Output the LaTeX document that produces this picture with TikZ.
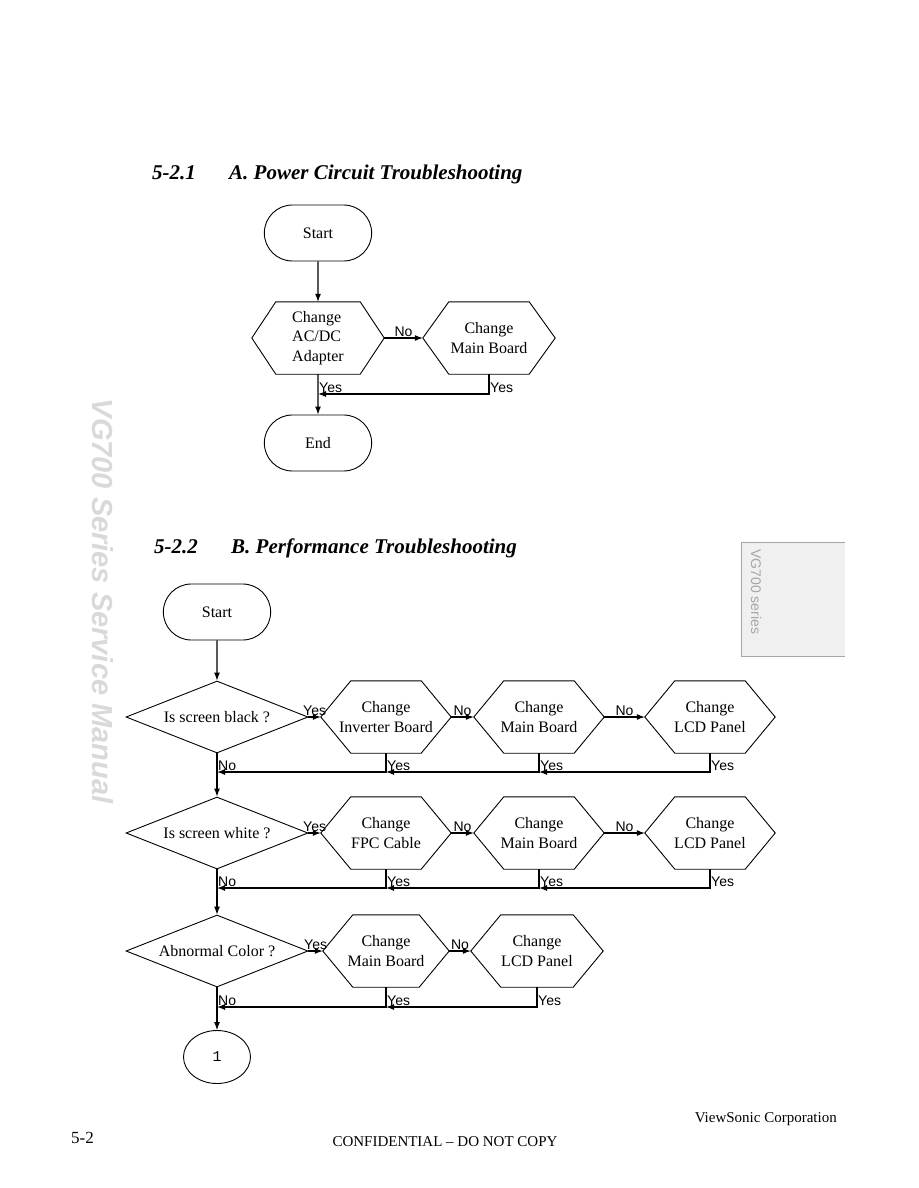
\documentclass[tikz,border=0pt]{standalone}
\usepackage{fontspec}
\setmainfont{Liberation Serif}
\setsansfont{Liberation Sans}
\newfontfamily\digitfont{Liberation Mono}
\usepackage{tikz}
\usetikzlibrary{positioning, arrows.meta, calc, shapes.geometric, shapes.misc}
\newcommand\chartfont{\fontsize{16}{19.5}\selectfont}
\tikzset{
  terminal/.style={
    rounded rectangle,
    draw,
    line width=0.9pt,
    minimum width=114pt,
    minimum height=56pt,
    font=\chartfont
  },
  decision/.style={
    diamond, draw, line width=0.9pt,
    aspect=2.5, inner sep=0pt,
    minimum width=182pt, minimum height=72pt,
    font=\chartfont
  },
  hexbox/.style 2 args={
    rectangle, inner sep=0pt,
    minimum width=#1, minimum height=72pt,
    align=center, font=\chartfont,
    append after command={\pgfextra{
      \draw[line width=0.9pt] (\tikzlastnode.west)
        -- ([xshift=#2]\tikzlastnode.north west)
        -- ([xshift=-#2]\tikzlastnode.north east)
        -- (\tikzlastnode.east)
        -- ([xshift=-#2]\tikzlastnode.south east)
        -- ([xshift=#2]\tikzlastnode.south west) -- cycle;}}
  },
  flow/.style={-{Latex[length=8pt, width=6pt]}, line width=1.1pt},
  lbl/.style={font=\sffamily\fontsize{14}{16}\selectfont, inner sep=1pt},
  title/.style={font=\bfseries\itshape\fontsize{21}{25}\selectfont, inner sep=0pt},
  pagetxt/.style={font=\fontsize{15}{18}\selectfont, inner sep=0pt}
}

\begin{document}
\begin{tikzpicture}[x=1pt, y=-1pt,
  sidetxt/.style={font=\sffamily\fontsize{14}{16}\selectfont, text=gray!70, inner sep=0pt},
  manualtxt/.style={font=\sffamily\bfseries\itshape\fontsize{29}{32}\selectfont, text=gray!30, inner sep=0pt}]
  \useasboundingbox (0,0) rectangle (918,1188);

  % Section A heading
  \node[title, anchor=base west] (numA) at (152,179) {5-2.1};
  \node[title, anchor=base west] (headA) at (229,179) {A. Power Circuit Troubleshooting};

  % Power circuit chart
  \node[terminal] (startA) at (318,233) {Start};
  \node[hexbox={132pt}{24pt}, align=left] (chgAdapter) at (318,338) {Change\\AC/DC\\Adapter};
  \node[hexbox={132pt}{26pt}] (chgMainA) at (489,338) {Change\\Main Board};
  \node[terminal] (endA) at (318,443) {End};
  \coordinate (jA) at (chgAdapter.south |- 0,394);
  \coordinate (jB) at (chgMainA.south |- 0,394);

  \draw[flow] (startA) -- (chgAdapter);
  \draw[flow] (chgAdapter) -- node[lbl, above] (noA) {No} (chgMainA);
  \draw[flow] (chgAdapter) -- (endA);
  \draw[flow] (chgMainA.south) -- (jB) -- (jA);
  \node[lbl, above right] (yesA1) at (jA) {Yes};
  \node[lbl, above right] (yesA2) at (jB) {Yes};

  % Section B heading
  \node[title, anchor=base west] (numB) at (154,553) {5-2.2};
  \node[title, anchor=base west] (headB) at (231,553) {B. Performance Troubleshooting};

  % Row 1: black screen
  \node[terminal] (startB) at (217,612) {Start};
  \node[decision] (qBlack) at (217,717) {Is screen black ?};
  \node[hexbox={130pt}{30pt}] (invBoard) at (386,717) {Change\\Inverter Board};
  \node[hexbox={130pt}{30pt}] (mainB1) at (539,717) {Change\\Main Board};
  \node[hexbox={130pt}{30pt}] (lcdB1) at (710,717) {Change\\LCD Panel};
  \coordinate (r1q) at (qBlack.south |- 0,772);
  \coordinate (r1a) at (invBoard.south |- 0,772);
  \coordinate (r1b) at (mainB1.south |- 0,772);
  \coordinate (r1c) at (lcdB1.south |- 0,772);

  \draw[flow] (startB) -- (qBlack);
  \draw[flow] (qBlack) -- node[lbl, above] (y1) {Yes} (invBoard);
  \draw[flow] (invBoard) -- node[lbl, above] (n1a) {No} (mainB1);
  \draw[flow] (mainB1) -- node[lbl, above] (n1b) {No} (lcdB1);
  \draw[flow] (lcdB1.south) -- (r1c) -- (r1b);
  \draw[flow] (mainB1.south) -- (r1b) -- (r1a);
  \draw[flow] (invBoard.south) -- (r1a) -- (r1q);
  \node[lbl, above right] (n1q) at (r1q) {No};
  \node[lbl, above right] (y1a) at (r1a) {Yes};
  \node[lbl, above right] (y1b) at (r1b) {Yes};
  \node[lbl, above right] (y1c) at (r1c) {Yes};

  % Row 2: white screen
  \node[decision] (qWhite) at (217,833) {Is screen white ?};
  \node[hexbox={130pt}{30pt}] (fpcCable) at (386,833) {Change\\FPC Cable};
  \node[hexbox={130pt}{30pt}] (mainB2) at (539,833) {Change\\Main Board};
  \node[hexbox={130pt}{30pt}] (lcdB2) at (710,833) {Change\\LCD Panel};
  \coordinate (r2q) at (qWhite.south |- 0,888);
  \coordinate (r2a) at (fpcCable.south |- 0,888);
  \coordinate (r2b) at (mainB2.south |- 0,888);
  \coordinate (r2c) at (lcdB2.south |- 0,888);

  \draw[flow] (qBlack) -- (qWhite);
  \draw[flow] (qWhite) -- node[lbl, above] (y2) {Yes} (fpcCable);
  \draw[flow] (fpcCable) -- node[lbl, above] (n2a) {No} (mainB2);
  \draw[flow] (mainB2) -- node[lbl, above] (n2b) {No} (lcdB2);
  \draw[flow] (lcdB2.south) -- (r2c) -- (r2b);
  \draw[flow] (mainB2.south) -- (r2b) -- (r2a);
  \draw[flow] (fpcCable.south) -- (r2a) -- (r2q);
  \node[lbl, above right] (n2q) at (r2q) {No};
  \node[lbl, above right] (y2a) at (r2a) {Yes};
  \node[lbl, above right] (y2b) at (r2b) {Yes};
  \node[lbl, above right] (y2c) at (r2c) {Yes};

  % Row 3: abnormal color
  \node[decision] (qColor) at (217,951) {Abnormal Color ?};
  \node[hexbox={126pt}{30pt}] (mainB3) at (386,951) {Change\\Main Board};
  \node[hexbox={132pt}{30pt}] (lcdB3) at (537,951) {Change\\LCD Panel};
  \node[ellipse, draw, line width=0.9pt, minimum width=67pt, minimum height=53pt,
        font=\digitfont\fontsize{15}{17}\selectfont] (cont1) at (217,1057) {1};
  \coordinate (r3q) at (qColor.south |- 0,1007);
  \coordinate (r3a) at (mainB3.south |- 0,1007);
  \coordinate (r3b) at (lcdB3.south |- 0,1007);

  \draw[flow] (qWhite) -- (qColor);
  \draw[flow] (qColor) -- node[lbl, above] (y3) {Yes} (mainB3);
  \draw[flow] (mainB3) -- node[lbl, above] (n3a) {No} (lcdB3);
  \draw[flow] (lcdB3.south) -- (r3b) -- (r3a);
  \draw[flow] (mainB3.south) -- (r3a) -- (r3q);
  \draw[flow] (qColor) -- (cont1);
  \node[lbl, above right] (n3q) at (r3q) {No};
  \node[lbl, above right] (y3a) at (r3a) {Yes};
  \node[lbl, above right] (y3b) at (r3b) {Yes};

  % side tab and spine text
  \fill[gray!12] (741,542) rectangle (845,656);
  \draw[gray!70, line width=0.8pt] (845,542) -- (741,542) -- (741,656) -- (845,656);
  \node[sidetxt, rotate=-90, anchor=west] (tabLbl) at (756,549) {VG700 series};
  \node[manualtxt, rotate=-90] (spineLbl) at (103,601) {VG700 Series Service Manual};

  % footer
  \node[pagetxt, anchor=west, font=\fontsize{17}{20}\selectfont] (pageNo) at (71,1138) {5-2};
  \node[pagetxt, anchor=east] (corp) at (837,1119) {ViewSonic Corporation};
  \node[pagetxt] (confid) at (445,1142) {CONFIDENTIAL \textendash{} DO NOT COPY};
\end{tikzpicture}
\end{document}
